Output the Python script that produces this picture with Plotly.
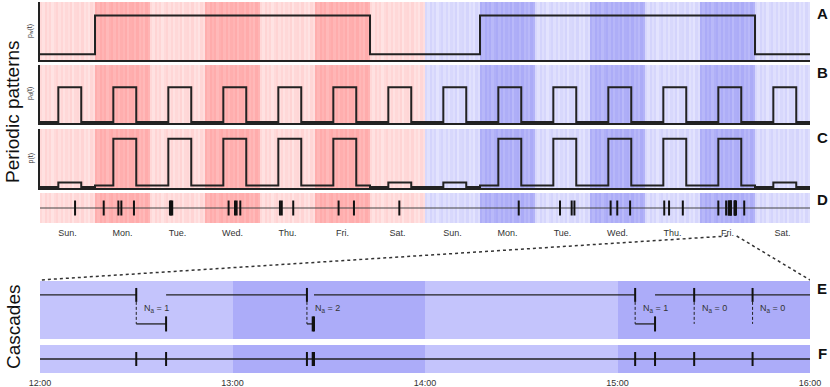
import plotly.graph_objects as go

W, H = 830, 387

# ---------------------------------------------------------------------------
# DATA
# ---------------------------------------------------------------------------

day_names = ["Sun.", "Mon.", "Tue.", "Wed.", "Thu.", "Fri.", "Sat.",
             "Sun.", "Mon.", "Tue.", "Wed.", "Thu.", "Fri.", "Sat."]

# A: weekly pattern p_w(t), one level per day
pw_level = [0.13, 1.0, 1.0, 1.0, 1.0, 1.0, 0.13,
            0.13, 1.0, 1.0, 1.0, 1.0, 1.0, 0.13]

# B: daily pattern p_d(t), active hours and levels
active_hours = (8, 18)
pd_on, pd_off = 0.8, 0.02

# C: combined pattern p(t), level inside / outside active hours per day
p_on = [0.11, 1.0, 1.0, 1.0, 1.0, 1.0, 0.11,
        0.11, 1.0, 1.0, 1.0, 1.0, 1.0, 0.11]
p_off = [0.02, 0.05, 0.05, 0.05, 0.05, 0.05, 0.02,
         0.02, 0.05, 0.05, 0.05, 0.05, 0.05, 0.02]

# D: event times, hours after Sunday 00:00 of week 1
events_h = [15.3, 27.8, 34.2, 35.5, 41.0, 56.7, 57.2, 57.7,
            82.3, 85.1, 85.8, 87.4, 104.7, 105.5, 110.5, 130.3, 137.0, 156.8,
            208.9, 226.9, 232.0, 233.2, 249.0, 251.9, 257.5,
            272.4, 274.5, 280.5, 296.0, 299.4,
            300.5, 300.65, 301.39, 301.42, 301.43, 303.09, 303.2, 303.4, 303.7,
            307.3]

# background shading: per day, and small per-hour variation
day_shade = [0.10, 0.33, 0.10, 0.33, 0.10, 0.33, 0.10,
             0.10, 0.33, 0.10, 0.33, 0.10, 0.33, 0.10]
hour_shade = [0.02, -0.03, 0.04, -0.01, 0.03, -0.04, 0.01, 0.04,
              -0.02, 0.03, -0.03, 0.02, -0.01, 0.04, -0.04, 0.02,
              0.03, -0.02, 0.04, -0.03, 0.01, -0.04, 0.03, -0.01]

# E/F: zoom on Friday of week 2, 12:00 - 16:00 (minutes after 12:00)
zoom_start_h, zoom_end_h = 300, 304
time_labels = ["12:00", "13:00", "14:00", "15:00", "16:00"]
trigger_min = [30.0, 83.2, 185.5, 203.9, 222.1]
children_min = [[39.3], [85.0, 85.4], [191.7], [], []]
hour_bg = [0, 1, 0, 1]

# ---------------------------------------------------------------------------
# LAYOUT HELPERS
# ---------------------------------------------------------------------------

def ydom(top, bottom):
    return [1 - bottom / H, 1 - top / H]

panels = {  # pixel top, bottom
    1: (2, 60), 2: (65, 123), 3: (129, 188), 4: (193, 223),
    5: (281, 339), 6: (345, 373),
}
yranges = {1: [0, 1.3], 2: [0, 1.3], 3: [0, 1.2], 4: [-1, 1], 5: [0, 1], 6: [-1, 1]}

INK = "#222222"
FONT = "Liberation Sans, Arial, sans-serif"

fig = go.Figure()

def ax(i):
    return dict(xaxis="x" if i == 1 else f"x{i}", yaxis="y" if i == 1 else f"y{i}")

# backgrounds for the two-week panels
red_blue = [[0.0, "#ffeeee"], [0.45, "#ff9c9c"], [0.45, "#ffffff"],
            [0.55, "#ffffff"], [0.55, "#eeeeff"], [1.0, "#9c9cf5"]]
zrow = []
for d in range(14):
    base = 0.55 if d >= 7 else 0.0
    for h in range(24):
        zrow.append(base + day_shade[d] + hour_shade[h])
x_edges = list(range(0, 337))
for i in range(1, 5):
    fig.add_trace(go.Heatmap(x=x_edges, y=yranges[i], z=[zrow], colorscale=red_blue,
                             zmin=0, zmax=1, showscale=False, hoverinfo="skip", **ax(i)))

# A
xa = [24 * d for d in range(15)]
ya = pw_level + [pw_level[-1]]
fig.add_trace(go.Scatter(x=xa, y=ya, mode="lines", line=dict(color=INK, width=2, shape="hv"),
                         hoverinfo="skip", **ax(1)))

# B and C
xb, yb, yc = [], [], []
for d in range(14):
    xb += [24 * d, 24 * d + active_hours[0], 24 * d + active_hours[1]]
    yb += [pd_off, pd_on, pd_off]
    yc += [p_off[d], p_on[d], p_off[d]]
xb.append(336)
yb.append(pd_off)
yc.append(p_off[-1])
fig.add_trace(go.Scatter(x=xb, y=yb, mode="lines", line=dict(color=INK, width=2, shape="hv"),
                         hoverinfo="skip", **ax(2)))
fig.add_trace(go.Scatter(x=xb, y=yc, mode="lines", line=dict(color=INK, width=2, shape="hv"),
                         hoverinfo="skip", **ax(3)))

# D
fig.add_trace(go.Scatter(x=[0, 336], y=[0, 0], mode="lines", line=dict(color="#444", width=1.2),
                         hoverinfo="skip", **ax(4)))
tx, ty = [], []
for e in events_h:
    tx += [e, e, None]
    ty += [-0.5, 0.5, None]
fig.add_trace(go.Scatter(x=tx, y=ty, mode="lines", line=dict(color="#111", width=2),
                         hoverinfo="skip", **ax(4)))

# E/F backgrounds
for i in (5, 6):
    fig.add_trace(go.Heatmap(x=[0, 60, 120, 180, 240], y=yranges[i], z=[hour_bg],
                             colorscale=[[0, "#c4c4fc"], [1, "#acacf9"]], zmin=0, zmax=1,
                             showscale=False, hoverinfo="skip", **ax(i)))

# E: cascades
up_y, tick_hi, tick_lo = 0.76, 0.88, 0.64
low_y, ctick_hi, ctick_lo = 0.26, 0.39, 0.13
ux, uy = [], []
start = 0
for t, ch in zip(trigger_min, children_min):
    if ch:
        ux += [start, t, None]
        uy += [up_y, up_y, None]
        start = max(ch)
ux += [start, 240]
uy += [up_y, up_y]
fig.add_trace(go.Scatter(x=ux, y=uy, mode="lines", line=dict(color=INK, width=1.3),
                         hoverinfo="skip", **ax(5)))

kx, ky, dx, dy, lx, ly = [], [], [], [], [], []
for t, ch in zip(trigger_min, children_min):
    kx += [t, t, None]
    ky += [tick_lo, tick_hi, None]
    dx += [t, t, None]
    dy += [tick_lo, low_y, None]
    if ch:
        lx += [t, max(ch), None]
        ly += [low_y, low_y, None]
        for c in ch:
            kx += [c, c, None]
            ky += [ctick_lo, ctick_hi, None]
    fig.add_annotation(x=t + 1.8, y=0.53, xref="x5", yref="y5", xanchor="left",
                       yanchor="middle", text=f"N<sub>a</sub> = {len(ch)}", showarrow=False,
                       font=dict(family=FONT, size=9, color="#333"))
fig.add_trace(go.Scatter(x=dx, y=dy, mode="lines", line=dict(color=INK, width=1, dash="3px,2px"),
                         hoverinfo="skip", **ax(5)))
fig.add_trace(go.Scatter(x=lx, y=ly, mode="lines", line=dict(color=INK, width=1.3),
                         hoverinfo="skip", **ax(5)))
fig.add_trace(go.Scatter(x=kx, y=ky, mode="lines", line=dict(color="#111", width=2),
                         hoverinfo="skip", **ax(5)))

# F: all events in the window
fig.add_trace(go.Scatter(x=[0, 240], y=[0, 0], mode="lines", line=dict(color=INK, width=1.3),
                         hoverinfo="skip", **ax(6)))
fx, fy = [], []
for t, ch in zip(trigger_min, children_min):
    for e in [t] + ch:
        fx += [e, e, None]
        fy += [-0.5, 0.5, None]
fig.add_trace(go.Scatter(x=fx, y=fy, mode="lines", line=dict(color="#111", width=2),
                         hoverinfo="skip", **ax(6)))

# ---------------------------------------------------------------------------
# AXES
# ---------------------------------------------------------------------------

layout = dict(width=W, height=H, margin=dict(l=0, r=0, t=0, b=0),
              paper_bgcolor="white", plot_bgcolor="white", showlegend=False,
              font=dict(family=FONT, color="#333"))
xdom = [40 / W, 810 / W]
for i in range(1, 7):
    xk = "xaxis" if i == 1 else f"xaxis{i}"
    yk = "yaxis" if i == 1 else f"yaxis{i}"
    framed = i <= 3
    xa_ = dict(domain=xdom, range=[0, 336] if i <= 4 else [0, 240], showgrid=False,
               zeroline=False, showticklabels=False, ticks="", fixedrange=True,
               automargin=False, anchor="y" if i == 1 else f"y{i}",
               showline=framed, linecolor=INK, linewidth=2)
    ya_ = dict(domain=ydom(*panels[i]), range=yranges[i], showgrid=False, zeroline=False,
               showticklabels=False, ticks="", fixedrange=True, automargin=False,
               anchor="x" if i == 1 else f"x{i}",
               showline=framed, linecolor=INK, linewidth=2)
    if i == 4:
        xa_.update(showticklabels=True, tickvals=[24 * d + 12 for d in range(14)],
                   ticktext=day_names, tickfont=dict(size=9, color="#333"),
                   ticks="outside", ticklen=1, tickcolor="rgba(0,0,0,0)")
    if i == 6:
        xa_.update(showticklabels=True, tickvals=[0, 60, 120, 180, 240],
                   ticktext=time_labels, tickfont=dict(size=9, color="#333"),
                   ticks="outside", ticklen=1, tickcolor="rgba(0,0,0,0)")
    layout[xk] = xa_
    layout[yk] = ya_
fig.update_layout(**layout)

# zoom connectors (dotted), drawn against the top time axis
fig.add_shape(type="line", xref="x", yref="paper", x0=zoom_start_h, x1=0,
              y0=1 - 236 / H, y1=1 - 280 / H, line=dict(color="#333", width=1.5, dash="dot"))
fig.add_shape(type="line", xref="x", yref="paper", x0=zoom_end_h, x1=336,
              y0=1 - 236 / H, y1=1 - 280 / H, line=dict(color="#333", width=1.5, dash="dot"))

# labels
for txt, yc_ in [("Periodic patterns", 112), ("Cascades", 327)]:
    fig.add_annotation(x=13 / W, y=1 - yc_ / H, xref="paper", yref="paper", text=txt,
                       xanchor="center", yanchor="middle", textangle=-90, showarrow=False,
                       font=dict(family=FONT, size=19, color="#111"))
for txt, i in [("p<sub>w</sub>(t)", 1), ("p<sub>d</sub>(t)", 2), ("p(t)", 3)]:
    top, bot = panels[i]
    fig.add_annotation(x=30 / W, y=1 - (top + bot) / 2 / H, xref="paper", yref="paper", text=txt,
                       xanchor="center", yanchor="middle", textangle=-90, showarrow=False,
                       font=dict(family=FONT, size=7, color="#333"))
for letter, yc_ in zip("ABCDEF", [14, 73, 137, 199, 288, 353]):
    fig.add_annotation(x=822 / W, y=1 - yc_ / H, xref="paper", yref="paper", text=f"<b>{letter}</b>",
                       xanchor="center", yanchor="middle", showarrow=False,
                       font=dict(family=FONT, size=15, color="#111"))

# the page body has a default 8px margin; remove it so the figure sits at the corner
fig.write_html("out.html", config={"displayModeBar": False},
               post_script="document.body.style.margin='0';")
